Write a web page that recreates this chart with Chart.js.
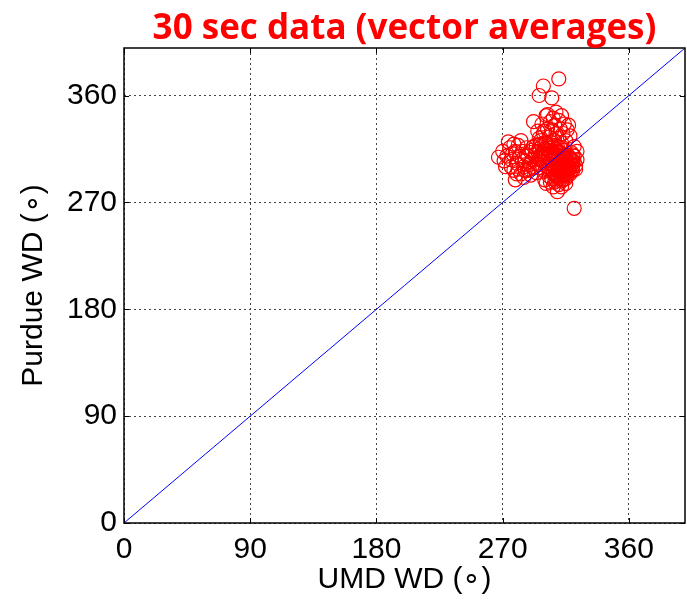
<!DOCTYPE html>
<html>
<head>
<meta charset="utf-8">
<script src="https://cdn.jsdelivr.net/npm/chart.js@4"></script>
<style>
  html, body { margin: 0; padding: 0; background: #fff; }
  #wrap { width: 687px; height: 603px; }
</style>
</head>
<body>
<div id="wrap"><canvas id="wdChart" width="687" height="603"></canvas></div>
<script>
/* -------------------------------------------
   DATA — 30 s vector-averaged wind direction
   ------------------------------------------- */

const chartTitle = "30 sec data (vector averages)";
const xTitle = "UMD WD (\u2218)";
const yTitle = "Purdue WD (\u2218)";

const tickValues = [0, 90, 180, 270, 360];
const axisMin = 0;
const axisMax = 400;

// 1:1 reference line
const oneToOneX = [0, 400];
const oneToOneY = [0, 400];

// UMD direction (deg) for each 30 s sample
const umdWD = [
  // western lobe
  267,270,272,274,275,276,277,278,279,280,281,282,283,284,285,285,286,287,288,288,
  289,290,290,291,292,292,293,294,294,295,296,297,297,298,299,300,300,278,283,271,
  273,276,279,281,284,286,287,289,291,293,280,296,
  // upper lobe
  292,295,296,298,299,300,301,302,302,303,304,305,305,306,307,307,308,308,309,310,
  310,311,312,312,313,314,315,316,317,318,303,306,297,300,294,
  295,296,297,298,298,299,300,301,301,302,303,304,304,305,306,307,309,311,
  // eastern dense lobe
  302,303,304,304,305,305,306,306,307,307,308,308,308,309,309,309,310,310,310,311,
  311,311,312,312,312,313,313,313,314,314,314,315,315,315,316,316,316,317,317,318,
  318,319,319,320,320,321,321,322,323,323,301,300,
  303,304,305,306,306,307,307,308,308,309,309,310,310,311,311,312,312,312,313,313,
  314,314,315,315,316,316,317,317,318,318,319,319,320,320,321,322,
  // scattered
  310,299,296,305,321
];

// Purdue direction (deg) for the same samples
const purdueWD = [
  308,313,300,321,316,306,311,297,289,303,318,309,294,313,300,291,305,316,297,309,
  302,312,293,306,299,317,310,303,295,313,307,299,319,311,304,296,315,319,322,305,
  309,300,313,298,306,297,310,298,314,300,294,302,
  338,330,324,336,328,320,343,332,344,325,338,318,331,341,322,335,346,328,317,339,
  324,332,343,320,328,336,322,331,335,326,314,313,322,330,318,
  308,315,310,305,318,312,308,320,311,316,308,321,312,316,309,318,312,316,
  300,292,306,287,296,311,283,301,293,308,288,298,315,279,303,292,296,308,285,300,
  290,312,304,295,283,298,309,289,302,293,314,297,306,286,300,310,292,303,296,307,
  299,302,312,297,305,309,317,301,306,313,286,289,
  297,302,290,305,295,287,300,310,293,297,307,290,301,295,305,288,299,310,293,303,
  297,307,290,301,295,305,299,309,294,303,297,306,301,310,304,298,
  374,368,360,358,265
];

/* -------------------------------------------
   BUILD DATASETS
   ------------------------------------------- */

const scatterPts = umdWD.map((x, i) => ({ x: x, y: purdueWD[i] }));
const linePts = oneToOneX.map((x, i) => ({ x: x, y: oneToOneY[i] }));

/* -------------------------------------------
   PLUGINS — boxed axes, inner ticks, title
   ------------------------------------------- */

const matlabFrame = {
  id: "matlabFrame",
  afterDatasetsDraw(chart) {
    const { ctx, chartArea: a, scales } = chart;
    ctx.save();
    ctx.strokeStyle = "#000";
    ctx.lineWidth = 1;
    ctx.setLineDash([]);
    // inward tick marks on all four sides
    const len = 5;
    ctx.beginPath();
    tickValues.forEach(v => {
      const px = Math.round(scales.x.getPixelForValue(v)) + 0.5;
      const py = Math.round(scales.y.getPixelForValue(v)) + 0.5;
      ctx.moveTo(px, a.bottom); ctx.lineTo(px, a.bottom - len);
      ctx.moveTo(px, a.top);    ctx.lineTo(px, a.top + len);
      ctx.moveTo(a.left, py);   ctx.lineTo(a.left + len, py);
      ctx.moveTo(a.right, py);  ctx.lineTo(a.right - len, py);
    });
    ctx.stroke();
    // box
    ctx.lineWidth = 1.5;
    ctx.strokeRect(a.left, a.top, a.right - a.left, a.bottom - a.top);
    // title centred over the plot box
    ctx.fillStyle = "#ff0000";
    ctx.font = "bold 35px 'Open Sans', sans-serif";
    ctx.textAlign = "center";
    ctx.textBaseline = "alphabetic";
    ctx.fillText(chartTitle, (a.left + a.right) / 2, 39);
    ctx.restore();
  }
};

/* -------------------------------------------
   CHART
   ------------------------------------------- */

const tickFont = { family: "'Liberation Sans', Arial, sans-serif", size: 30 };

new Chart(document.getElementById("wdChart"), {
  type: "scatter",
  data: {
    datasets: [
      {
        type: "line",
        data: linePts,
        borderColor: "#0000ff",
        borderWidth: 1,
        pointRadius: 0,
        fill: false,
        order: 1
      },
      {
        data: scatterPts,
        pointStyle: "circle",
        pointRadius: 7,
        borderColor: "#ff0000",
        backgroundColor: "rgba(0,0,0,0)",
        borderWidth: 1.2,
        order: 2
      }
    ]
  },
  options: {
    responsive: false,
    animation: false,
    layout: { autoPadding: false, padding: { top: 48, right: 2, left: 0, bottom: 0 } },
    plugins: {
      legend: { display: false },
      tooltip: { enabled: false }
    },
    scales: {
      x: {
        type: "linear",
        min: axisMin,
        max: axisMax,
        afterBuildTicks: s => { s.ticks = tickValues.map(v => ({ value: v })); },
        afterFit: s => { s.height = 80; s.paddingLeft = 0; s.paddingRight = 0; },
        ticks: { color: "#000", font: tickFont, padding: 9, maxRotation: 0 },
        grid: { color: "#444", lineWidth: 1, drawTicks: false },
        border: { display: false, dash: [2, 3] },
        title: { display: true, text: xTitle, color: "#000", font: tickFont, padding: { top: 0, bottom: 5 } }
      },
      y: {
        type: "linear",
        min: axisMin,
        max: axisMax,
        afterBuildTicks: s => { s.ticks = tickValues.map(v => ({ value: v })); },
        afterFit: s => { s.width = 124; s.paddingTop = 0; s.paddingBottom = 0; },
        ticks: { color: "#000", font: tickFont, padding: 7 },
        grid: { color: "#444", lineWidth: 1, drawTicks: false },
        border: { display: false, dash: [2, 3] },
        title: { display: true, text: yTitle, color: "#000", font: tickFont, padding: { top: 16, bottom: 0 } }
      }
    }
  },
  plugins: [matlabFrame]
});
</script>
</body>
</html>
